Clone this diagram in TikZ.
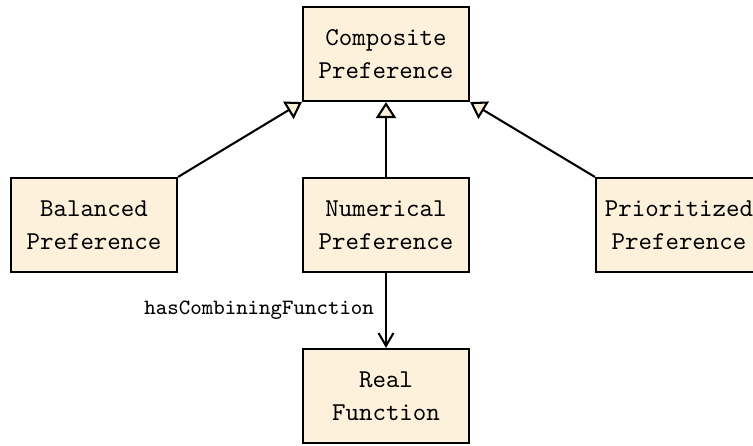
\documentclass[tikz,border=0pt]{standalone}
\usetikzlibrary{arrows.meta}
\definecolor{boxfill}{RGB}{253,241,220}
\tikzset{
  cls/.style={draw=black, line width=0.8pt, fill=boxfill, minimum width=64.6pt, minimum height=36.6pt,
    inner sep=0pt, align=center, font=\ttfamily\fontsize{10}{12.8}\selectfont},
  gen/.style={line width=0.8pt, -{Triangle[open, length=6.2pt, width=7.8pt, fill=boxfill]}},
  assoc/.style={line width=0.8pt, -{Straight Barb[length=5pt, width=5.8pt, line width=0.8pt]}},
  lbl/.style={font=\ttfamily\fontsize{8.5}{10}\selectfont, inner sep=4.3pt}
}
\begin{document}
\begin{tikzpicture}[x=0.389pt,y=-0.389pt]
\useasboundingbox (0,0) rectangle (753,446);
\node[cls] (comp) at (386,54) {Composite\\Preference};
\node[cls] (bal) at (94,225) {Balanced\\Preference};
\node[cls] (num) at (386,225) {Numerical\\Preference};
\node[cls] (pri) at (679,225) {Prioritized\\Preference};
\node[cls] (real) at (386,396) {Real\\Function};
\draw[gen] (bal.north east) -- (comp.south west);
\draw[gen] (num.north) -- (comp.south);
\draw[gen] (pri.north west) -- (comp.south east);
\draw[assoc] (num.south) -- node[lbl, left] {hasCombiningFunction} (real.north);
\end{tikzpicture}
\end{document}
